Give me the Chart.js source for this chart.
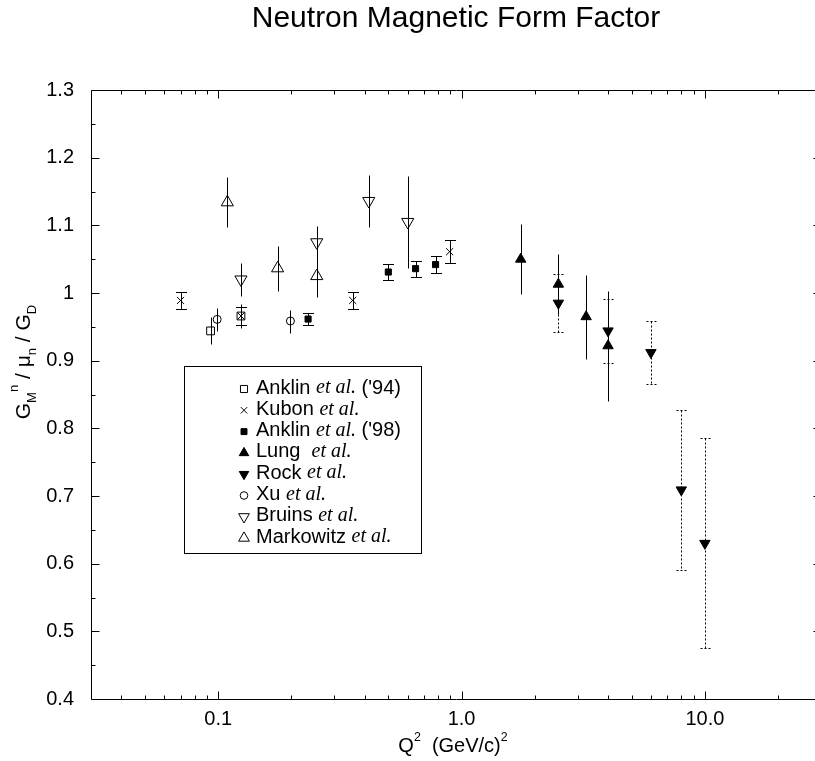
<!DOCTYPE html>
<html>
<head>
<meta charset="utf-8">
<title>Neutron Magnetic Form Factor</title>
<script src="https://cdn.jsdelivr.net/npm/chart.js@4.4.1/dist/chart.umd.min.js"></script>
<style>
  html, body { margin: 0; padding: 0; background: #fff; overflow: hidden; }
  #wrap { width: 830px; height: 761px; }
</style>
</head>
<body>
<div id="wrap"><canvas id="formFactorChart" width="830" height="761"></canvas></div>
<script>
// Q^2 values, G_M^n / mu_n / G_D values and errors, one set per experiment
const anklin94Q2 = [0.093, 0.124];
const anklin94G = [0.944, 0.966];
const anklin94Err = [0.020, 0.018];

const kubonQ2 = [0.070, 0.124, 0.357, 0.893];
const kubonG = [0.989, 0.966, 0.989, 1.061];
const kubonErr = [0.013, 0.013, 0.013, 0.017];

const anklin98Q2 = [0.234, 0.50, 0.647, 0.782];
const anklin98G = [0.9615, 1.031, 1.036, 1.042];
const anklin98Err = [0.0085, 0.012, 0.012, 0.012];

const lungQ2 = [1.75, 2.5, 3.25, 4.0];
const lungG = [1.050, 1.013, 0.965, 0.922];
const lungErr = [0.052, 0.044, 0.062, 0.081];

const rockQ2 = [2.5, 4.0, 6.0, 8.0, 10.0];
const rockG = [0.985, 0.944, 0.912, 0.709, 0.630];
const rockErr = [0.043, 0.047, 0.047, 0.118, 0.155];

const xuQ2 = [0.099, 0.198];
const xuG = [0.961, 0.9586];
const xuErr = [0.017, 0.017];

const bruinsQ2 = [0.124, 0.254, 0.4155, 0.601];
const bruinsG = [1.020, 1.075, 1.136, 1.105];
const bruinsErr = [0.024, 0.024, 0.038, 0.068];

const markowitzQ2 = [0.109, 0.1754, 0.254];
const markowitzG = [1.134, 1.0365, 1.025];
const markowitzErr = [0.037, 0.033, 0.031];

// legend texts
const legendNames = ['Anklin', 'Kubon', 'Anklin', 'Lung ', 'Rock', 'Xu', 'Bruins', 'Markowitz'];
const legendSuffix = [" ('94)", '', " ('98)", '', '', '', '', ''];

// axis ticks
const yTickValues = [0.4, 0.5, 0.6, 0.7, 0.8, 0.9, 1.0, 1.1, 1.2, 1.3];
const yTickLabels = ['0.4', '0.5', '0.6', '0.7', '0.8', '0.9', '1', '1.1', '1.2', '1.3'];
const yMinorTicks = [0.45, 0.55, 0.65, 0.75, 0.85, 0.95, 1.05, 1.15, 1.25];
const xTickValues = [0.1, 1, 10];
const xTickLabels = ['0.1', '1.0', '10.0'];
const xMinorTicks = [0.04, 0.05, 0.06, 0.07, 0.08, 0.09,
                     0.2, 0.3, 0.4, 0.5, 0.6, 0.7, 0.8, 0.9,
                     2, 3, 4, 5, 6, 7, 8, 9, 20];

const SANS = '"Liberation Sans", Arial, Helvetica, sans-serif';
const SERIF = '"Liberation Serif", "Times New Roman", serif';
Chart.defaults.font.family = SANS;
Chart.defaults.color = '#000';

function points(xs, ys) {
    return xs.map((x, i) => ({ x: x, y: ys[i] }));
}

const OPEN = 'rgba(0,0,0,0)';
const datasets = [
    { label: 'Anklin94', data: points(anklin94Q2, anklin94G), errors: anklin94Err,
      pointStyle: 'rect', pointRadius: 5.5, backgroundColor: OPEN, legendRadius: 5 },
    { label: 'Kubon', data: points(kubonQ2, kubonG), errors: kubonErr, errCap: 5.5,
      pointStyle: 'crossRot', pointRadius: 5, backgroundColor: OPEN, legendRadius: 4.5 },
    { label: 'Anklin98', data: points(anklin98Q2, anklin98G), errors: anklin98Err, errCap: 5.5,
      pointStyle: 'rect', pointRadius: 4.3, backgroundColor: '#000', legendRadius: 4.2 },
    { label: 'Lung', data: points(lungQ2, lungG), errors: lungErr,
      pointStyle: 'triangle', pointRadius: 6, backgroundColor: '#000', legendRadius: 5.5 },
    { label: 'Rock', data: points(rockQ2, rockG), errors: rockErr, errCap: 5, errDash: [2, 2],
      pointStyle: 'triangle', rotation: 180, pointRadius: 6, backgroundColor: '#000', legendRadius: 5.5 },
    { label: 'Xu', data: points(xuQ2, xuG), errors: xuErr,
      pointStyle: 'circle', pointRadius: 4, backgroundColor: OPEN, legendRadius: 3.8 },
    { label: 'Bruins', data: points(bruinsQ2, bruinsG), errors: bruinsErr,
      pointStyle: 'triangle', rotation: 180, pointRadius: 7, backgroundColor: OPEN, legendRadius: 6.2 },
    { label: 'Markowitz', data: points(markowitzQ2, markowitzG), errors: markowitzErr,
      pointStyle: 'triangle', pointRadius: 7, backgroundColor: OPEN, legendRadius: 6.2 }
];
datasets.forEach(ds => {
    ds.borderColor = '#000';
    ds.borderWidth = 1;
    ds.pointBorderWidth = 1;
    ds.pointHoverRadius = ds.pointRadius;
    ds.showLine = false;
});

// vertical error bars, drawn under the markers
const errorBars = {
    id: 'errorBars',
    beforeDatasetsDraw(chart) {
        const { ctx, scales: { x, y } } = chart;
        chart.data.datasets.forEach(ds => {
            ctx.save();
            ctx.strokeStyle = '#000';
            ctx.lineWidth = 1;
            ctx.setLineDash(ds.errDash || []);
            ds.data.forEach((p, i) => {
                const px = Math.round(x.getPixelForValue(p.x)) + 0.5;
                const top = Math.round(y.getPixelForValue(p.y + ds.errors[i])) + 0.5;
                const bot = Math.round(y.getPixelForValue(p.y - ds.errors[i])) + 0.5;
                ctx.beginPath();
                ctx.moveTo(px, top);
                ctx.lineTo(px, bot);
                if (ds.errCap) {
                    ctx.moveTo(px - ds.errCap, top);
                    ctx.lineTo(px + ds.errCap, top);
                    ctx.moveTo(px - ds.errCap, bot);
                    ctx.lineTo(px + ds.errCap, bot);
                }
                ctx.stroke();
            });
            ctx.restore();
        });
    }
};

// frame with inward ticks on all four sides
const frameTicks = {
    id: 'frameTicks',
    beforeDatasetsDraw(chart) {
        const { ctx, chartArea: a, scales: { x, y } } = chart;
        const L = Math.round(a.left) + 0.5, R = Math.round(a.right) + 0.5;
        const T = Math.round(a.top) + 0.5, B = Math.round(a.bottom) + 0.5;
        ctx.save();
        ctx.strokeStyle = '#000';
        ctx.lineWidth = 1;
        ctx.beginPath();
        ctx.rect(L, T, R - L, B - T);
        const yTick = (v, len) => {
            const py = Math.round(y.getPixelForValue(v)) + 0.5;
            ctx.moveTo(L, py); ctx.lineTo(L + len, py);
            ctx.moveTo(R, py); ctx.lineTo(R - len, py);
        };
        const xTick = (v, len) => {
            const px = Math.round(x.getPixelForValue(v)) + 0.5;
            ctx.moveTo(px, B); ctx.lineTo(px, B - len);
            ctx.moveTo(px, T); ctx.lineTo(px, T + len);
        };
        yTickValues.forEach(v => yTick(v, 8));
        yMinorTicks.forEach(v => yTick(v, 4));
        xTickValues.forEach(v => xTick(v, 8));
        xMinorTicks.forEach(v => xTick(v, 4));
        ctx.stroke();
        ctx.restore();
    }
};

// axis titles with sub/superscripts
function drawPieces(ctx, pieces, size) {
    let w = 0;
    pieces.forEach(p => {
        ctx.font = (p.s ? size * 0.62 : size) + 'px ' + SANS;
        p.w = ctx.measureText(p.t).width;
        w += p.w;
    });
    let cx = -w / 2;
    pieces.forEach(p => {
        ctx.font = (p.s ? size * 0.62 : size) + 'px ' + SANS;
        ctx.fillText(p.t, cx, p.s === 'sub' ? size * 0.3 : p.s === 'sup' ? -size * 0.55 : 0);
        cx += p.w;
    });
}

const axisTitles = {
    id: 'axisTitles',
    afterDraw(chart) {
        const ctx = chart.ctx;
        ctx.save();
        ctx.fillStyle = '#000';
        ctx.textBaseline = 'alphabetic';
        ctx.textAlign = 'left';
        ctx.translate(453, 752);
        drawPieces(ctx, [{ t: 'Q' }, { t: '2', s: 'sup' }, { t: '  (GeV/c)' }, { t: '2', s: 'sup' }], 20);
        ctx.restore();

        ctx.save();
        ctx.fillStyle = '#000';
        ctx.textBaseline = 'alphabetic';
        ctx.textAlign = 'left';
        ctx.translate(30, 362);
        ctx.rotate(-Math.PI / 2);
        drawPieces(ctx, [{ t: 'G' }, { t: 'M', s: 'sub' }, { t: 'n', s: 'sup' }, { t: ' / \u03bc' },
                         { t: 'n', s: 'sub' }, { t: ' / G' }, { t: 'D', s: 'sub' }], 21);
        ctx.restore();
    }
};

// boxed legend inside the plot
const boxLegend = {
    id: 'boxLegend',
    afterDraw(chart) {
        const ctx = chart.ctx;
        ctx.save();
        ctx.strokeStyle = '#000';
        ctx.lineWidth = 1;
        ctx.strokeRect(184.5, 366.5, 237, 187);
        chart.data.datasets.forEach((ds, i) => {
            const cy = 388 + i * 21.3;
            ctx.fillStyle = ds.backgroundColor;
            ctx.strokeStyle = '#000';
            ctx.lineWidth = 1;
            Chart.helpers.drawPoint(ctx, {
                pointStyle: ds.pointStyle, rotation: ds.rotation || 0,
                radius: ds.legendRadius, borderWidth: 1
            }, 244, cy + 1);
            ctx.fillStyle = '#000';
            ctx.textBaseline = 'middle';
            ctx.textAlign = 'left';
            let tx = 256;
            ctx.font = '20px ' + SANS;
            const name = legendNames[i] + ' ';
            ctx.fillText(name, tx, cy);
            tx += ctx.measureText(name).width;
            ctx.font = 'italic 20px ' + SERIF;
            ctx.fillText('et al.', tx, cy);
            tx += ctx.measureText('et al.').width;
            ctx.font = '20px ' + SANS;
            ctx.fillText(legendSuffix[i], tx, cy);
        });
        ctx.restore();
    }
};

new Chart(document.getElementById('formFactorChart'), {
    type: 'scatter',
    data: { datasets: datasets },
    options: {
        responsive: false,
        animation: false,
        devicePixelRatio: 1,
        layout: { padding: { left: 0, right: 9, top: 0, bottom: 0 } },
        plugins: {
            legend: { display: false },
            tooltip: { enabled: false },
            title: {
                display: true,
                text: 'Neutron Magnetic Form Factor',
                fullSize: false,
                color: '#000',
                font: { size: 30, weight: 'normal', family: SANS },
                padding: { top: 1, bottom: 53 }
            }
        },
        scales: {
            x: {
                type: 'logarithmic',
                min: 0.03,
                max: 30,
                grid: { display: false, drawTicks: false },
                border: { display: false },
                afterBuildTicks: s => { s.ticks = xTickValues.map(v => ({ value: v })); },
                afterFit: s => { s.height = 62; },
                ticks: {
                    padding: 8, autoSkip: false, maxRotation: 0,
                    font: { size: 20 },
                    callback: (v, i) => xTickLabels[i]
                }
            },
            y: {
                min: 0.4,
                max: 1.3,
                grid: { display: false, drawTicks: false },
                border: { display: false },
                afterBuildTicks: s => { s.ticks = yTickValues.map(v => ({ value: v })); },
                afterFit: s => { s.width = 91; },
                ticks: {
                    padding: 17,
                    font: { size: 20 },
                    callback: (v, i) => yTickLabels[i]
                }
            }
        }
    },
    plugins: [errorBars, frameTicks, axisTitles, boxLegend]
});
</script>
</body>
</html>
